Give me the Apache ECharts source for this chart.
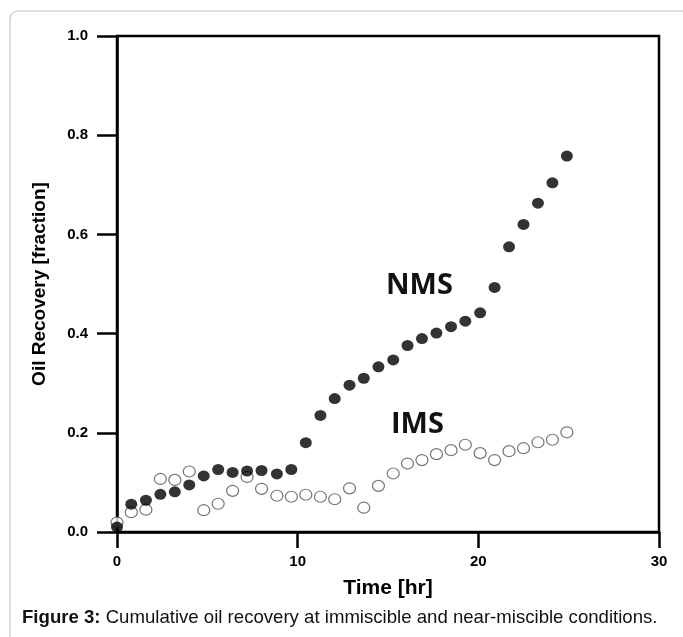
<!DOCTYPE html>
<html>
<head>
<meta charset="utf-8">
<script src="https://cdn.jsdelivr.net/npm/echarts@6/dist/echarts.min.js"></script>
<style>
  html, body { margin: 0; padding: 0; background: #fff; }
  #chart { width: 683px; height: 637px; }
</style>
</head>
<body>
<div id="chart"></div>
<script>
// time in hours
var times = [0, 0.79, 1.6, 2.4, 3.2, 4.0, 4.8, 5.6, 6.4, 7.2, 8.0, 8.85, 9.65, 10.45, 11.26, 12.05,
    12.87, 13.66, 14.47, 15.29, 16.08, 16.88, 17.68, 18.49, 19.28, 20.1, 20.9, 21.7, 22.5, 23.3, 24.1, 24.9];
// near-miscible (filled dots)
var nms = [0.01, 0.056, 0.064, 0.076, 0.081, 0.095, 0.113, 0.126, 0.12, 0.123, 0.124, 0.117, 0.126, 0.18, 0.235, 0.269,
    0.296, 0.31, 0.333, 0.347, 0.376, 0.39, 0.401, 0.414, 0.425, 0.442, 0.493, 0.575, 0.62, 0.663, 0.704, 0.758];
// immiscible (open circles)
var ims = [0.019, 0.04, 0.045, 0.107, 0.105, 0.122, 0.044, 0.057, 0.083, 0.111, 0.087, 0.073, 0.071, 0.075, 0.071, 0.066,
    0.088, 0.049, 0.093, 0.118, 0.138, 0.145, 0.157, 0.165, 0.176, 0.159, 0.145, 0.163, 0.169, 0.181, 0.186, 0.201];

function pairs(xs, ys) {
    var out = [];
    for (var i = 0; i < xs.length; i++) out.push([xs[i], ys[i]]);
    return out;
}

var font = 'Liberation Sans, Arial, sans-serif';
var chart = echarts.init(document.getElementById('chart'));
var option = {
    animation: false,
    grid: {
        left: 117, top: 36, right: 24, bottom: 105,
        show: true, borderColor: '#000', borderWidth: 2.5
    },
    xAxis: {
        type: 'value', min: 0, max: 30, interval: 10,
        name: 'Time [hr]', nameLocation: 'middle', nameGap: 46,
        nameTextStyle: { fontFamily: font, fontWeight: 'bold', fontSize: 21, color: '#000' },
        axisLine: { lineStyle: { color: '#000', width: 2.5 } },
        axisTick: { length: 16, lineStyle: { color: '#000', width: 2.5 } },
        axisLabel: { margin: 22, fontFamily: font, fontWeight: 'bold', fontSize: 15, color: '#000' },
        splitLine: { show: false }
    },
    yAxis: {
        type: 'value', min: 0, max: 1, interval: 0.2,
        name: 'Oil Recovery [fraction]', nameLocation: 'middle', nameGap: 68,
        nameTextStyle: { fontFamily: font, fontWeight: 'bold', fontSize: 19, color: '#000' },
        axisLine: { lineStyle: { color: '#000', width: 2.5 } },
        axisTick: { length: 20, lineStyle: { color: '#000', width: 2.5 } },
        axisLabel: {
            margin: 29, fontFamily: font, fontWeight: 'bold', fontSize: 15, color: '#000',
            formatter: function (v) { return v.toFixed(1); }
        },
        splitLine: { show: false }
    },
    graphic: [
        {
            type: 'rect', silent: true, z: -1,
            shape: { x: 10, y: 11, width: 680, height: 640, r: 8 },
            style: { fill: 'none', stroke: '#c4c4c4', lineWidth: 1.2 }
        },
        {
            type: 'text', left: 386, top: 271,
            style: { text: 'NMS', font: 'bold 29px "Open Sans", sans-serif', fill: '#111' }
        },
        {
            type: 'text', left: 391, top: 410,
            style: { text: 'IMS', font: 'bold 29px "Open Sans", sans-serif', fill: '#111' }
        }
    ],
    title: {
        left: 22, top: 608, padding: 0,
        text: '{b|Figure 3:} Cumulative oil recovery at immiscible and near-miscible conditions.',
        textStyle: {
            fontFamily: font, fontSize: 18.6, fontWeight: 'normal', color: '#111',
            rich: { b: { fontFamily: font, fontSize: 18.6, fontWeight: 'bold', color: '#111' } }
        }
    },
    series: [
        {
            name: 'IMS', type: 'scatter', symbol: 'circle', symbolSize: [12, 11],
            itemStyle: { color: '#fff', borderColor: '#555', borderWidth: 1.2 },
            data: pairs(times, ims)
        },
        {
            name: 'NMS', type: 'scatter', symbol: 'circle', symbolSize: [12, 11],
            itemStyle: { color: '#000' },
            data: pairs(times, nms)
        }
    ]
};
chart.setOption(option);
</script>
</body>
</html>
